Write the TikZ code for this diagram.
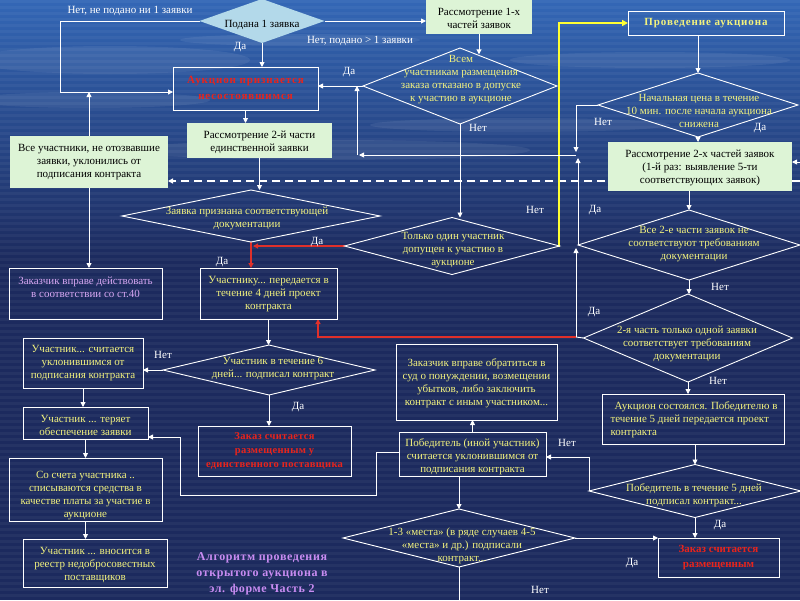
\documentclass[tikz,border=0pt]{standalone}
\usepackage{fontspec}
\setmainfont{Liberation Serif}
\usetikzlibrary{shapes.geometric,arrows.meta}
\definecolor{bgA}{HTML}{3367B6}
\definecolor{bgB}{HTML}{1C2A5E}
\definecolor{gfill}{HTML}{DDF4D6}
\definecolor{bfill}{HTML}{B3D9EA}
\definecolor{ytext}{HTML}{F2F27E}
\definecolor{rtext}{HTML}{E8241C}
\definecolor{ltext}{HTML}{D6A6F2}
\definecolor{ptext}{HTML}{C98CF2}
\definecolor{yline}{HTML}{FFFF33}
\definecolor{rline}{HTML}{E0302A}
\pgfdeclarelayer{back}
\pgfdeclarelayer{mid}
\pgfsetlayers{back,mid,main}
\begin{document}
\begin{tikzpicture}[x=1pt,y=-1pt,
  every node/.style={inner sep=0pt, outer sep=0pt},
  font=\fontsize{11}{13}\selectfont,
  ln/.style={draw=white, line width=0.9pt},
  arr/.style={ln, -{Triangle[length=5pt,width=5pt]}},
  rarr/.style={draw=rline, line width=1.1pt, -{Triangle[length=5pt,width=5pt]}},
  yarr/.style={draw=yline, line width=1.5pt, -{Triangle[length=6pt,width=6pt]}},
  gbox/.style={fill=gfill, text=black, align=center},
  dbox/.style={draw=white, line width=0.9pt},
  dia/.style={diamond, draw=white, line width=0.9pt},
  ytxt/.style={text=ytext, align=center},
  ktxt/.style={text=black, align=center},
  rtxt/.style={text=rtext, align=center, font=\fontsize{11}{15}\selectfont\bfseries},
  lbl/.style={text=white},
  streak/.style={fill=white, opacity=0.07}]
\useasboundingbox (0,0) rectangle (800,600);
% background
\begin{pgfonlayer}{back}
\shade[top color=bgA, bottom color=bgB] (0,0) rectangle (800,260);
\fill[bgB] (0,260) rectangle (800,600);
\fill[streak] (110,60) ellipse [x radius=140pt, y radius=14pt];
\fill[streak] (90,100) ellipse [x radius=120pt, y radius=8pt];
\fill[streak] (330,150) ellipse [x radius=200pt, y radius=10pt];
\fill[streak] (520,125) ellipse [x radius=150pt, y radius=7pt];
\fill[streak] (650,60) ellipse [x radius=140pt, y radius=8pt];
\fill[streak] (300,40) ellipse [x radius=120pt, y radius=6pt];
\foreach \i in {0,...,99} { \fill[white,opacity=0.045] (0,\i*6) rectangle (800,\i*6+3); }
\end{pgfonlayer}

% ---------- boxes ----------
\node[gbox, minimum width=106pt, minimum height=34pt] (r1) at (479,17) {};
\node[ktxt] (r1t) at (479,18.5) {Рассмотрение 1-х\\частей заявок};
\node[dbox, minimum width=145pt, minimum height=43pt] (fail) at (245.5,88.5) {};
\node[rtxt, font=\fontsize{11}{16}\selectfont\bfseries\addfontfeature{LetterSpace=8}] (failt) at (245.5,88) {Аукцион признается\\несостоявшимся};
\node[gbox, minimum width=145pt, minimum height=35pt] (r2single) at (259.5,140.5) {};
\node[ktxt] (r2singlet) at (259.5,142) {Рассмотрение 2-й части\\единственной заявки};
\node[gbox, minimum width=158pt, minimum height=52pt] (allp) at (89,162) {};
\node[ktxt] (allpt) at (89,162) {Все участники, не отозвавшие\\заявки, уклонились от\\подписания контракта};
\node[gbox, minimum width=184pt, minimum height=49pt] (r2x) at (700,166.5) {};
\node[ktxt] (r2xt) at (700,168) {Рассмотрение 2-х частей заявок\\(1-й раз: выявление 5-ти\\соответствующих заявок)};
\node[dbox, minimum width=156pt, minimum height=24pt] (auction) at (706,23) {};
\node[ytxt, font=\fontsize{11}{13}\selectfont\bfseries\addfontfeature{LetterSpace=8}] (auctiont) at (706,23) {Проведение аукциона};
\node[dbox, minimum width=153pt, minimum height=51pt] (art40) at (85.5,293.5) {};
\node[text=ltext, align=center] (art40t) at (85.5,287) {Заказчик вправе действовать\\в соответствии со ст.40};
\node[dbox, minimum width=137pt, minimum height=51pt] (give4) at (268.5,293.5) {};
\node[ytxt] (give4t) at (268.5,294) {Участнику... передается в\\течение 4 дней проект\\контракта};
\node[dbox, minimum width=120pt, minimum height=50pt] (avoid1) at (83,363) {};
\node[ytxt] (avoid1t) at (83,363) {Участник... считается\\уклонившимся от\\подписания контракта};
\node[dbox, minimum width=125pt, minimum height=32pt] (lose) at (85.5,423) {};
\node[ytxt] (loset) at (85.5,425) {Участник ... теряет\\обеспечение заявки};
\node[dbox, minimum width=153pt, minimum height=63pt] (debit) at (85.5,489.5) {};
\node[ytxt] (debitt) at (85.5,496) {Со счета участника ..\\списываются средства в\\качестве платы за участие в\\аукционе};
\node[dbox, minimum width=144pt, minimum height=48pt] (registry) at (95,563) {};
\node[ytxt] (registryt) at (95,565) {Участник ... вносится в\\реестр недобросовестных\\поставщиков};
\node[dbox, minimum width=153pt, minimum height=50pt] (placed1) at (274.5,451) {};
\node[rtxt, font=\fontsize{10.5}{14}\selectfont\bfseries\addfontfeature{LetterSpace=3}] (placed1t) at (274.5,451) {Заказ считается\\размещенным у\\единственного поставщика};
\node[dbox, minimum width=161pt, minimum height=76pt] (court) at (476.5,382) {};
\node[ytxt] (courtt) at (476.5,383) {Заказчик вправе обратиться в\\суд о понуждении, возмещении\\убытков, либо заключить\\контракт с иным участником...};
\node[dbox, minimum width=147pt, minimum height=44pt] (other) at (472.5,454) {};
\node[ytxt] (othert) at (472.5,457) {Победитель (иной участник)\\считается уклонившимся от\\подписания контракта};
\node[dbox, minimum width=182pt, minimum height=50pt] (held) at (693,419) {};
\node[ytxt, align=left] (heldt) at (694,420) {\hspace*{4pt}Аукцион состоялся. Победителю в\\течение 5 дней передается проект\\контракта};
\node[dbox, minimum width=121pt, minimum height=39pt] (placed2) at (718.5,557.5) {};
\node[rtxt] (placed2t) at (718.5,558) {Заказ считается\\размещенным};

% ---------- diamonds ----------
\node[diamond, fill=bfill, minimum width=125pt, minimum height=44pt] (dq1) at (262,21) {};
\node[ktxt] (dq1t) at (262,25) {Подана 1 заявка};
\node[dia, minimum width=194pt, minimum height=76pt] (dq2) at (460,86) {};
\node[ytxt] (dq2t) at (461,80) {Всем\\участникам размещения\\заказа отказано в допуске\\к участию в аукционе};
\node[dia, minimum width=200pt, minimum height=64pt] (dq3) at (698,105) {};
\node[ytxt] (dq3t) at (699,111) {Начальная цена в течение\\10 мин. после начала аукциона\\снижена};
\node[dia, minimum width=258pt, minimum height=52pt] (dq4) at (251,216) {};
\node[ytxt] (dq4t) at (247,218) {Заявка признана соответствующей\\документации};
\node[dia, minimum width=215pt, minimum height=57pt] (dq5) at (452,246) {};
\node[ytxt] (dq5t) at (453,250) {Только один участник\\допущен к участию в\\аукционе};
\node[dia, minimum width=222pt, minimum height=70pt] (dq6) at (689,245) {};
\node[ytxt] (dq6t) at (694,244) {Все 2-е части заявок не\\соответствуют требованиям\\документации};
\node[dia, minimum width=209pt, minimum height=88pt] (dq7) at (688,338) {};
\node[ytxt] (dq7t) at (687,344) {2-я часть только одной заявки\\соответствует требованиям\\документации};
\node[dia, minimum width=212pt, minimum height=50pt] (dq8) at (269,370) {};
\node[ytxt] (dq8t) at (273,369) {Участник в течение 6\\дней... подписал контракт};
\node[dia, minimum width=212pt, minimum height=53pt] (dq9) at (695,491) {};
\node[ytxt] (dq9t) at (694,495) {Победитель в течение 5 дней\\подписал контракт...};
\node[dia, minimum width=232pt, minimum height=58pt] (dq10) at (459,538) {};
\node[ytxt] (dq10t) at (462,546) {1-3 «места» (в ряде случаев 4-5\\«места» и др.) подписали\\контракт...};

% title
\node[text=ptext, align=center, font=\fontsize{12}{16}\selectfont\bfseries\addfontfeature{LetterSpace=5}] (title) at (262,574) {Алгоритм проведения\\открытого аукциона в\\эл. форме Часть 2};

% ---------- coordinates ----------
\coordinate (c1) at (60,21);
\coordinate (c2) at (60,92);
\coordinate (dr) at (800,181);
\coordinate (y1) at (559,23);
\coordinate (v1) at (576,105);
\coordinate (v2) at (576,155);
\coordinate (v2a) at (576,152);
\coordinate (v2b) at (576,158);
\coordinate (v3) at (357,155);
\coordinate (w1) at (576,337);
\coordinate (w1a) at (576,248);
\coordinate (w2) at (318,337);
\coordinate (n1) at (590,457);
\coordinate (e1) at (463,600);
\coordinate (p1) at (376,452);
\coordinate (p2) at (376,495);
\coordinate (p3) at (180,495);
\coordinate (p4) at (180,437);
\coordinate (rr) at (800,162);

% ---------- connectors ----------
\begin{pgfonlayer}{mid}
\draw[arr] (dq1.west) -- (c1) -- (c2) -- (c2 -| fail.west);
\draw[arr] (dq1.south) -- (dq1.south |- fail.north);
\draw[arr] (dq1.east) -- (dq1.east -| r1.west);
\draw[arr] (r1.south) -- (r1.south |- dq2.63);
\draw[arr] (dq2.west) -- (dq2.west -| fail.east);
\draw[arr] (dq2.south) -- (dq2.south |- dq5.north);
\draw[arr] (fail.south) -- (fail.south |- r2single.north);
\draw[arr] (r2single.south) -- (r2single.south |- dq4.north);
\draw[arr] (allp.north) -- (allp.north |- c2);
\draw[arr] (allp.south) -- (allp.south |- art40.north);
\draw[arr, line width=1.3pt, dash pattern=on 8pt off 5pt] (dr) -- (dr -| allp.east);
\draw[rarr] (dq4.south) -- (dq4.south |- give4.north);
\draw[rarr] (dq5.west) -- ([xshift=2pt]dq4.south |- dq5.west);
\draw[yarr] (dq5.east) -- (y1 |- dq5.east) -- (y1) -- (y1 -| auction.west);
\draw[arr] (dq3.north |- auction.south) -- (dq3.north);
\draw[arr] (dq3.south) -- (dq3.south |- r2x.north);
\draw[arr] (dq3.west) -- (v1) -- (v2a);
\draw[arr] (dq6.west) -- (dq6.west |- v2b);
\draw[arr] (v2) -- ([xshift=2pt]v3);
\draw[arr] (v3) -- (v3 |- dq2.west);
\draw[arr] (dq6.north |- r2x.south) -- (dq6.north);
\draw[arr] (dq6.south) -- (dq6.south |- dq7.north);
\draw[arr] (dq7.south) -- (dq7.south |- held.north);
\draw[ln] (dq7.west) -- (w1);
\draw[arr] (w1) -- (w1a);
\draw[rarr] (w1) -- (w2) -- (w2 |- give4.south);
\draw[arr] (dq9.north |- held.south) -- (dq9.north);
\draw[arr] (dq9.south) -- (dq9.south |- placed2.north);
\draw[arr] (dq9.west) -- (dq9.west |- n1) -- (n1 -| other.east);
\draw[arr] (other.north) -- (other.north |- court.south);
\draw[arr] (dq10.north |- other.south) -- (dq10.north);
\draw[arr] (dq10.east) -- (dq10.east -| placed2.west);
\draw[ln] (dq10.south) -- (dq10.south |- e1);
\draw[arr] (other.west |- p1) -- (p1) -- (p2) -- (p3) -- (p4) -- (p4 -| lose.east);
\draw[arr] (dq8.west) -- (dq8.west -| avoid1.east);
\draw[arr] (dq8.south) -- (dq8.south |- placed1.north);
\draw[arr] (give4.south) -- (give4.south |- dq8.north);
\draw[arr] (avoid1.south) -- (avoid1.south |- lose.north);
\draw[arr] (lose.south) -- (lose.south |- debit.north);
\draw[arr] (debit.south) -- (debit.south |- registry.north);
\draw[arr] (rr) -- (rr -| r2x.east);
\end{pgfonlayer}

% ---------- labels ----------
\node[lbl] (l1) at (130,11) {Нет, не подано ни 1 заявки};
\node[lbl] (l2) at (240,47) {Да};
\node[lbl] (l3) at (360,41) {Нет, подано > 1 заявки};
\node[lbl] (l4) at (349,72) {Да};
\node[lbl] (l5) at (478,128) {Нет};
\node[lbl] (l6) at (535,210) {Нет};
\node[lbl] (l7) at (595,210) {Да};
\node[lbl] (l8) at (603,122) {Нет};
\node[lbl] (l9) at (760,128) {Да};
\node[lbl] (l10) at (317,242) {Да};
\node[lbl] (l11) at (222,262) {Да};
\node[lbl] (l12) at (720,287) {Нет};
\node[lbl] (l13) at (594,312) {Да};
\node[lbl] (l14) at (718,381) {Нет};
\node[lbl] (l15) at (163,355) {Нет};
\node[lbl] (l16) at (298,407) {Да};
\node[lbl] (l17) at (567,443) {Нет};
\node[lbl] (l18) at (720,525) {Да};
\node[lbl] (l19) at (632,563) {Да};
\node[lbl] (l20) at (540,590) {Нет};
\end{tikzpicture}
\end{document}
